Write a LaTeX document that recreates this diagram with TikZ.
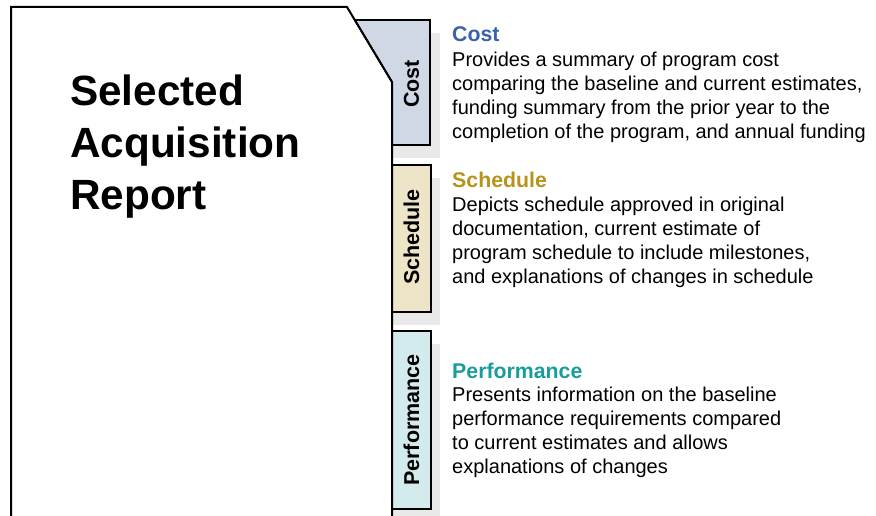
\documentclass[tikz,border=0pt]{standalone}
\usepackage{fontspec}
\setmainfont{Liberation Sans}
\usepackage{xcolor}
\usetikzlibrary{positioning}

\definecolor{costtab}{HTML}{D0D8E6}
\definecolor{schedtab}{HTML}{EEE5C8}
\definecolor{perftab}{HTML}{D3EBEC}
\definecolor{tabshade}{HTML}{E9E9E9}
\definecolor{costhead}{HTML}{3A62A6}
\definecolor{schedhead}{HTML}{B8921C}
\definecolor{perfhead}{HTML}{1A9C9C}

\tikzset{
  tabedge/.style={draw=black, line width=1.6pt},
  tabshadow/.style={fill=tabshade, draw=none},
  tablabel/.style={rotate=90, font=\fontsize{21.5}{24}\selectfont\bfseries},
  headtext/.style={anchor=base west, inner sep=0pt, font=\fontsize{21.3}{24}\selectfont\bfseries},
  bodytext/.style={anchor=north west, inner sep=0pt, align=left, font=\fontsize{20}{24}\selectfont},
}

\begin{document}
\begin{tikzpicture}[x=1pt, y=-1pt]
\useasboundingbox (0,0) rectangle (876,516);

% shadows behind the tabs
\fill[tabshadow] (392,33) rectangle (440,158);
\fill[tabshadow] (392,178) rectangle (440,325);
\fill[tabshadow] (392,344) rectangle (440,516);

% tabs
\filldraw[tabedge, fill=costtab] (354.8,20) -- (430,20) -- (430,145) -- (392,145) -- (392,82) -- cycle;
\filldraw[tabedge, fill=schedtab] (392,165) rectangle (431,312);
\filldraw[tabedge, fill=perftab] (392,331) rectangle (431,509);

% the report page
\draw[line width=2pt, line join=miter] (11,516) -- (11,7) -- (347,7) -- (392,82) -- (392,516);

\node[tablabel] (costtab) at (411.5,84) {Cost};
\node[tablabel] (schedtab) at (411.5,237) {Schedule};
\node[tablabel] (perftab) at (411.5,420) {Performance};

\node[anchor=north west, inner sep=0pt, align=left,
      font=\fontsize{42.3}{52}\selectfont\bfseries] (title) at (70,68.6)
      {\strut Selected\\Acquisition\\Report};

% descriptions
\node[headtext, text=costhead] (costhead) at (452,42) {Cost};
\node[bodytext] (costbody) at (452,49.2)
  {\strut Provides a summary of program cost\\
   comparing the baseline and current estimates,\\
   funding summary from the prior year to the\\
   completion of the program, and annual funding};

\node[headtext, text=schedhead] (schedhead) at (452,188) {Schedule};
\node[bodytext] (schedbody) at (452,194.2)
  {\strut Depicts schedule approved in original\\
   documentation, current estimate of\\
   program schedule to include milestones,\\
   and explanations of changes in schedule};

\node[headtext, text=perfhead] (perfhead) at (452,378) {Performance};
\node[bodytext] (perfbody) at (452,384.2)
  {\strut Presents information on the baseline\\
   performance requirements compared\\
   to current estimates and allows\\
   explanations of changes};
\end{tikzpicture}
\end{document}
